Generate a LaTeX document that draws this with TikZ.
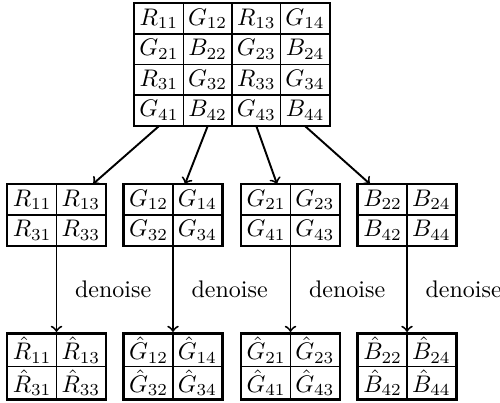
\documentclass[tikz,border=0pt]{standalone}
\usetikzlibrary{matrix}
\begin{document}
\begin{tikzpicture}[x=0.4167pt,y=-0.4167pt,
  grid/.style={matrix of math nodes, draw, line width=1pt, inner sep=0pt,
    column sep=-0.55pt, row sep=-0.55pt,
    nodes={draw, line width=0.55pt, minimum width=20.3pt, minimum height=12.7pt, inner sep=0pt}},
  hatgrid/.style={grid, nodes={minimum height=13.6pt}},
  arr/.style={->, line width=0.8pt},
  lbl/.style={right=4pt}]
\useasboundingbox (0,0) rectangle (500,402);

\matrix (top) [grid] at (232,64.5) {
R_{11} & G_{12} & R_{13} & G_{14}\\
G_{21} & B_{22} & G_{23} & B_{24}\\
R_{31} & G_{32} & R_{33} & G_{34}\\
G_{41} & B_{42} & G_{43} & B_{44}\\
};

\matrix (g1) [grid] at (56.5,215) {
R_{11} & R_{13}\\
R_{31} & R_{33}\\
};
\matrix (g2) [grid] at (173,215) {
G_{12} & G_{14}\\
G_{32} & G_{34}\\
};
\matrix (g3) [grid] at (290.5,215) {
G_{21} & G_{23}\\
G_{41} & G_{43}\\
};
\matrix (g4) [grid] at (407,215) {
B_{22} & B_{24}\\
B_{42} & B_{44}\\
};

\matrix (h1) [hatgrid] at (56.5,366.5) {
\hat{R}_{11} & \hat{R}_{13}\\
\hat{R}_{31} & \hat{R}_{33}\\
};
\matrix (h2) [hatgrid] at (173,366.5) {
\hat{G}_{12} & \hat{G}_{14}\\
\hat{G}_{32} & \hat{G}_{34}\\
};
\matrix (h3) [hatgrid] at (290.5,366.5) {
\hat{G}_{21} & \hat{G}_{23}\\
\hat{G}_{41} & \hat{G}_{43}\\
};
\matrix (h4) [hatgrid] at (407,366.5) {
\hat{B}_{22} & \hat{B}_{24}\\
\hat{B}_{42} & \hat{B}_{44}\\
};

\coordinate (e1) at (93,184);
\coordinate (e2) at (185,184);
\coordinate (e3) at (277,184);
\coordinate (e4) at (370,184);

\draw[arr] (top-4-1.south) -- (e1);
\draw[arr] (top-4-2.south) -- (e2);
\draw[arr] (top-4-3.south) -- (e3);
\draw[arr] (top-4-4.south) -- (e4);

\draw[arr] (g1.south) -- (h1.north) node[midway, lbl] {denoise};
\draw[arr] (g2.south) -- (h2.north) node[midway, lbl] {denoise};
\draw[arr] (g3.south) -- (h3.north) node[midway, lbl] {denoise};
\draw[arr] (g4.south) -- (h4.north) node[midway, lbl] {denoise};
\end{tikzpicture}
\end{document}
